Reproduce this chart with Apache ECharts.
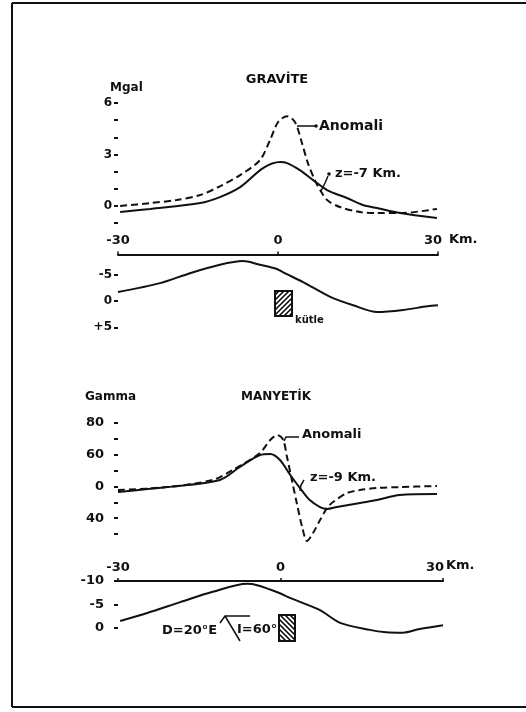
<!DOCTYPE html>
<html>
<head>
<meta charset="utf-8">
<script src="https://cdn.jsdelivr.net/npm/echarts@6/dist/echarts.min.js"></script>
<style>html,body{margin:0;padding:0;background:#fff}#c{width:526px;height:712px}</style>
</head>
<body>
<div id="c"></div>
<script>
// ---------- DATA ----------
// Gravity panel, upper plot (mGal vs km)
const gravAnomX = [-29.6,-24,-19,-14.6,-10.9,-7.1,-3.4,-1.5,0,1.7,3.2,4.5,5.6,6.9,7.9,9.2,11.6,15.4,18.6,22.9,29.8];
const gravAnomY = [0.0,0.17,0.35,0.64,1.15,1.8,2.67,3.84,4.88,5.23,4.88,3.66,2.5,1.51,0.93,0.35,-0.06,-0.35,-0.41,-0.41,-0.17];
const gravZ7X = [-29.6,-24,-14.6,-10.9,-7.1,-2.8,0.4,1.7,4.1,6.6,9.2,12.9,15.9,18.6,22.9,29.8];
const gravZ7Y = [-0.35,-0.17,0.17,0.52,1.1,2.21,2.56,2.5,2.09,1.51,0.93,0.47,0.06,-0.12,-0.41,-0.7];
// Gravity panel, lower profile
const gravLowX = [-30,-22.1,-16.5,-10.9,-6.6,-3.4,-0.2,0.9,4.7,9.8,14.1,18.6,23.5,28.0,30];
const gravLowY = [-1.7,-3.4,-5.3,-6.9,-7.6,-6.9,-6.1,-5.5,-3.6,-0.8,0.8,2.1,1.7,1.0,0.8];
// Magnetic panel, upper plot
const magAnomX = [-30,-20.9,-12.5,-8.8,-3.8,-1.9,-0.6,0.5,1.2,2.1,3.0,4.0,4.9,6.0,7.3,8.6,9.7,12.3,14.7,17.8,22.0,28.9];
const magAnomY = [37.8,39.6,44.1,50.4,61.1,69.3,72.4,69.3,58.6,44.1,29.6,14.4,5.6,10.6,18.8,26.4,30.2,35.9,37.8,39.0,39.6,40.3];
const magZ9X = [-30,-20.9,-11.2,-7.5,-3.8,-1.9,-0.1,1.8,3.6,5.4,7.3,8.6,10.4,14.7,17.8,22.0,28.9];
const magZ9Y = [36.5,39.6,44.1,52.3,59.8,60.5,56.7,47.2,39.0,31.4,27.0,25.8,27.0,29.6,31.4,34.6,35.2];
// Magnetic panel, lower profile
const magLowX = [-29.6,-24.6,-18.5,-12.5,-6.2,-4.3,-0.1,1.75,7.3,11.0,16.5,19.5,22.6,25.7,30];
const magLowY = [-1.5,-3.2,-5.5,-7.7,-9.4,-9.1,-7.4,-6.4,-3.8,-1.1,0.4,0.9,1.0,0.2,-0.6];
// Tick positions and labels
const xTickValues = [-30, 0, 30];
const xTickLabels = ['-30', '0', '30'];
const gravTicks = [-1, 0, 1, 2, 3, 4, 5, 6];
const gravTickValues = [6, 3, 0];
const gravTickLabels = ['6', '3', '0'];
const gravLowTickValues = [-5, 0, 5];
const gravLowTickLabels = ['-5', '0', '+5'];
const magTicks = [10, 20, 30, 40, 50, 60, 70, 80];
const magTickValues = [80, 60, 40, 20];
const magTickLabels = ['80', '60', '0', '40'];
const magLowTickValues = [-10, -5, 0];
const magLowTickLabels = ['-10', '-5', '0'];

// ---------- CHART ----------
const pair = (xs, ys) => xs.map((x, i) => [x, ys[i]]);
const look = (vals, labs) => v => { const i = vals.indexOf(Math.round(v * 1000) / 1000); return i >= 0 ? labs[i] : ''; };
const FONT = '"DejaVu Sans", sans-serif';
const black = '#111';

function yAxisCfg(gi, min, max, interval, ticks, labVals, labs, margin, inverse, size) {
  return {
    type: 'value', gridIndex: gi, min, max, interval, inverse: !!inverse, position: 'left',
    axisLine: { show: false, onZero: false }, splitLine: { show: false },
    axisTick: { show: true, length: 4, customValues: ticks, lineStyle: { color: black, width: 2 } },
    axisLabel: { show: true, customValues: labVals, formatter: look(labVals, labs), margin, color: black, fontWeight: 'bold', fontSize: size, fontFamily: FONT, showMinLabel: true, showMaxLabel: true }
  };
}
function xAxisCfg(gi, show, offset, shift) {
  return {
    type: 'value', gridIndex: gi, min: -30, max: 30, interval: 30, position: 'top', offset: offset || 0,
    show: show,
    axisLine: { show: true, onZero: false, lineStyle: { color: black, width: 2 } },
    axisTick: { show: true, length: 3, inside: false, lineStyle: { color: black, width: 1.5 } },
    splitLine: { show: false },
    axisLabel: {
      show: true, margin: 7, color: black, fontWeight: 'bold', fontSize: 13, fontFamily: FONT,
      showMinLabel: true, showMaxLabel: true,
      formatter: v => { const t = look(xTickValues, xTickLabels)(v); return v === 30 ? '{r|' + t + '}' : t; },
      rich: { r: { padding: [0, shift, 0, 0], fontWeight: 'bold', fontSize: 13, fontFamily: FONT, color: black } }
    }
  };
}
function lineSeries(xi, yi, data, dashed, clip) {
  return {
    type: 'line', xAxisIndex: xi, yAxisIndex: yi, data, smooth: 0.3, showSymbol: false, symbol: 'none',
    clip: clip !== false,
    lineStyle: { color: black, width: 2, type: dashed ? [7, 4] : 'solid' }
  };
}

function hatch(dir) {
  const c = document.createElement('canvas'); c.width = 5; c.height = 5;
  const g = c.getContext('2d'); g.strokeStyle = '#000'; g.lineWidth = 1.5; g.beginPath();
  if (dir > 0) { g.moveTo(-1, 6); g.lineTo(6, -1); g.moveTo(-1, 1); g.lineTo(1, -1); g.moveTo(4, 6); g.lineTo(6, 4); }
  else { g.moveTo(-1, -1); g.lineTo(6, 6); g.moveTo(4, -1); g.lineTo(6, 1); g.moveTo(-1, 4); g.lineTo(1, 6); }
  g.stroke(); return c;
}
function txt(text, x, y, size, align, extra) {
  return Object.assign({ type: 'text', x, y, style: { text, font: 'bold ' + size + 'px ' + FONT, fill: black, align: align || 'left', verticalAlign: 'middle', textAlign: align || 'left', textVerticalAlign: 'middle' } }, extra || {});
}
function ln(x1, y1, x2, y2, w) { return { type: 'line', shape: { x1, y1, x2, y2 }, style: { stroke: black, lineWidth: w || 1.5 } }; }
function pl(points, w) { return { type: 'polyline', shape: { points }, style: { stroke: black, fill: null, lineWidth: w || 1.5 } }; }
function dot(x, y, r) { return { type: 'circle', shape: { cx: x, cy: y, r: r || 1.8 }, style: { fill: black } }; }

const chart = echarts.init(document.getElementById('c'), null, { renderer: 'canvas' });
const option = {
  animation: false,
  backgroundColor: '#fff',
  grid: [
    { left: 118, top: 103, width: 320, height: 120.2 },
    { left: 118, top: 248.5, width: 320, height: 78.75 },
    { left: 118, top: 423, width: 325, height: 126.9 },
    { left: 118, top: 581, width: 325, height: 47 }
  ],
  xAxis: [
    xAxisCfg(0, false, 0, 0),
    xAxisCfg(1, true, -6, 10),
    xAxisCfg(2, false, 0, 0),
    xAxisCfg(3, true, 0, 16)
  ],
  yAxis: [
    yAxisCfg(0, -1, 6, 1, gravTicks, gravTickValues, gravTickLabels, 6, false, 12),
    yAxisCfg(1, -10, 5, 5, gravLowTickValues, gravLowTickValues, gravLowTickLabels, 6, true, 12),
    yAxisCfg(2, 0, 80, 10, magTicks, magTickValues, magTickLabels, 14, false, 13),
    yAxisCfg(3, -10, 0, 5, magLowTickValues, magLowTickValues, magLowTickLabels, 14, true, 13)
  ],
  series: [
    lineSeries(0, 0, pair(gravAnomX, gravAnomY), true),
    lineSeries(0, 0, pair(gravZ7X, gravZ7Y), false),
    lineSeries(1, 1, pair(gravLowX, gravLowY), false),
    lineSeries(2, 2, pair(magAnomX, magAnomY), true, false),
    lineSeries(2, 2, pair(magZ9X, magZ9Y), false),
    lineSeries(3, 3, pair(magLowX, magLowY), false, false)
  ],
  graphic: [
    // frame
    ln(12, 3, 526, 3, 2), ln(12, 3, 12, 707, 2), ln(12, 707, 526, 707, 2),
    // gravity panel texts
    txt('GRAVİTE', 277, 80, 13, 'center'),
    txt('Mgal', 110, 88, 12, 'left'),
    txt('Anomali', 319, 126, 14, 'left'),
    ln(297, 126, 315, 126, 1.5), dot(316, 126, 1.8),
    txt('z=-7 Km.', 335, 174, 13, 'left'),
    pl([[321, 191], [325, 183], [328, 176]], 1.5), dot(329, 174, 1.8),
    txt('Km.', 449, 240, 13, 'left'),
    { type: 'rect', shape: { x: 275, y: 291, width: 17, height: 25 }, style: { fill: { image: hatch(1), repeat: 'repeat' }, stroke: black, lineWidth: 2 } },
    txt('kütle', 295, 320, 10, 'left'),
    // magnetic panel texts
    txt('Gamma', 85, 397, 12, 'left'),
    txt('MANYETİK', 276, 397, 12, 'center'),
    txt('Anomali', 302, 435, 13, 'left'),
    pl([[284, 441], [286, 437], [299, 437]], 1.5),
    txt('z=-9 Km.', 310, 478, 13, 'left'),
    pl([[300, 491], [301, 485], [304, 480]], 1.5),
    txt('Km.', 446, 566, 13, 'left'),
    txt('D=20°E', 162, 631, 13, 'left'),
    pl([[250, 616], [225, 616], [220, 623]], 1.5),
    ln(225, 616, 240, 641, 1.5),
    txt('I=60°', 237, 630, 13, 'left'),
    { type: 'rect', shape: { x: 279, y: 615, width: 16, height: 26 }, style: { fill: { image: hatch(-1), repeat: 'repeat' }, stroke: black, lineWidth: 2 } }
  ]
};
chart.setOption(option);
</script>
</body>
</html>
